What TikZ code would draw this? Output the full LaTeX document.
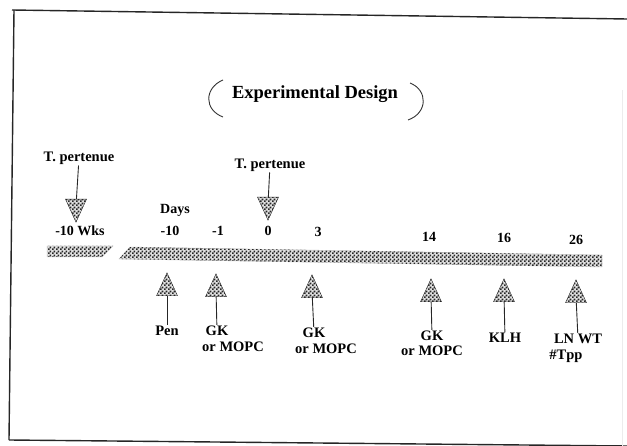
\documentclass[tikz,border=0pt]{standalone}
\usepackage{fontspec}
\setmainfont{Liberation Serif}
\usetikzlibrary{shapes.geometric,patterns.meta}
\tikzdeclarepattern{
  name=finechecks,
  type=uncolored,
  bottom left={(0pt,0pt)},
  top right={(4pt,4pt)},
  tile size={(4pt,4pt)},
  code={\fill (0pt,0pt) rectangle (2pt,2pt); \fill (2pt,2pt) rectangle (4pt,4pt);}
}
\tikzset{
  frame/.style={line width=1.4pt, black!85},
  paren/.style={line width=0.9pt, black!80},
  title/.style={font=\bfseries\fontsize{18.5}{20}\selectfont, inner sep=1pt},
  lbl/.style={font=\bfseries\fontsize{14.5}{16}\selectfont, inner sep=1pt},
  daylbl/.style={font=\bfseries\fontsize{14}{15}\selectfont, inner sep=1pt},
  checks/.style={fill=gray!25, postaction={pattern=finechecks, pattern color=black!85}},
  uptri/.style={draw=black!85, thin, checks, isosceles triangle, isosceles triangle stretches,
    shape border rotate=90, minimum width=21pt, minimum height=23pt, inner sep=0pt, anchor=south},
  downtri/.style={uptri, shape border rotate=-90, anchor=north},
  stem/.style={line width=0.9pt, black!85},
  bar/.style={checks, draw=gray!50, thin}
}
\begin{document}
\begin{tikzpicture}[x=1pt,y=-1pt]
  \useasboundingbox (0,0) rectangle (627,446);
  \draw[frame] (12,10) -- (627,19);
  \draw[frame] (14,10) -- (9,440);
  \draw[frame] (9,440) -- (627,446);
  \draw[gray!15, thin] (622,90) -- (622,446);

  \node[title] (title) at (315,94) {Experimental Design};
  \draw[paren] (223,80) .. controls (204,88) and (204,110) .. (223,117);
  \draw[paren] (410,83) .. controls (428,90) and (428,113) .. (408,120);

  \draw[bar] (47,246) -- (113,246) -- (102,257) -- (47,257) -- cycle;
  \draw[bar] (130,247) -- (602,255) -- (602,267) -- (119,259) -- cycle;

  \node[lbl] (tpA) at (79,158) {T. pertenue};
  \node[downtri] (dA) at (76,199) {};
  \node[daylbl] (wks) at (80,231) {-10 Wks};
  \node[lbl] (tpB) at (270,165) {T. pertenue};
  \node[downtri] (dB) at (268,197) {};
  \draw[stem] (tpA) -- (dA);
  \draw[stem] (tpB) -- (dB);

  \node[daylbl] (days) at (175,210) {Days};
  \node[daylbl] (dm10) at (170,231) {-10};
  \node[daylbl] (dm1) at (218,231) {-1};
  \node[daylbl] (d0) at (268,231) {0};
  \node[daylbl] (d3) at (318,232) {3};
  \node[daylbl] (d14) at (429,237) {14};
  \node[daylbl] (d16) at (504,238) {16};
  \node[daylbl] (d26) at (576,240) {26};

  \node[uptri] (uPen) at (167,296) {};
  \node[uptri] (uGKa) at (216,297) {};
  \node[uptri] (uGKb) at (312,298) {};
  \node[uptri] (uGKc) at (431,302) {};
  \node[uptri] (uKLH) at (504,302) {};
  \node[uptri] (uLN) at (576,303) {};

  \node[lbl] (lPen) at (167,331) {Pen};
  \node[lbl] (lGKa) at (217,331) {GK};
  \node[lbl] (oGKa) at (233,347) {or MOPC};
  \node[lbl] (lGKb) at (314,333) {GK};
  \node[lbl] (oGKb) at (326,349) {or MOPC};
  \node[lbl] (lGKc) at (432,336) {GK};
  \node[lbl] (oGKc) at (432,351) {or MOPC};
  \node[lbl] (lKLH) at (505,338) {KLH};
  \node[lbl] (lLN) at (578,339) {LN WT};
  \node[lbl] (lTpp) at (566,356) {\#Tpp};

  \draw[stem] (lPen) -- (uPen);
  \draw[stem] (lGKa) -- (uGKa);
  \draw[stem] (lGKb) -- (uGKb);
  \draw[stem] (lGKc) -- (uGKc);
  \draw[stem] (lKLH) -- (uKLH);
  \draw[stem] (lLN) -- (uLN);
\end{tikzpicture}
\end{document}
